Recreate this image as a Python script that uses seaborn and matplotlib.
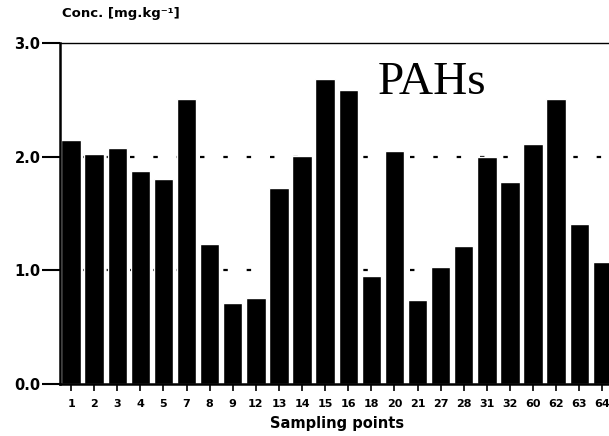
import matplotlib
matplotlib.use("Agg")
import matplotlib.pyplot as plt
import pandas as pd
import seaborn as sns

# Sampling points and PAH concentrations (mg/kg)
pontos = ["1", "2", "3", "4", "5", "7", "8", "9", "12", "13", "14", "15",
          "16", "18", "20", "21", "27", "28", "31", "32", "60", "62", "63", "64"]
conc = [2.15, 2.02, 2.08, 1.87, 1.80, 2.51, 1.23, 0.71, 0.76, 1.72, 2.01, 2.68,
        2.59, 0.95, 2.05, 0.74, 1.03, 1.21, 2.00, 1.78, 2.11, 2.51, 1.41, 1.07]
yticks = [0.0, 1.0, 2.0, 3.0]
ytick_labels = ["0.0", "1.0", "2.0", "3.0"]

dados = pd.DataFrame({"ponto": pontos, "conc": conc})

sns.set_style("ticks", {"text.color": "black", "axes.labelcolor": "black",
                        "xtick.color": "black", "ytick.color": "black",
                        "axes.edgecolor": "black"})
plt.rcParams["font.family"] = ["DejaVu Sans"]

fig = plt.figure(figsize=(6.09, 4.36), dpi=100)
# axes runs slightly off the right edge, like the cropped scan
ax = fig.add_axes([60 / 609, 52 / 436, 555 / 609, 341 / 436])

#grid lines behind the bars
for g in [1.0, 2.0]:
    ax.axhline(g, color="black", lw=1.6, ls=(0, (2, 8.5)), zorder=0)

sns.barplot(data=dados, x="ponto", y="conc", order=pontos, color="black",
            width=0.84, saturation=1, ax=ax, zorder=2)

ax.set_ylim(0, 3.0)
ax.set_xlim(-0.48, 23.55)
ax.set_yticks(yticks)
ax.set_yticklabels(ytick_labels, fontsize=10.5, fontweight="bold")
ax.tick_params(axis="y", left=True, direction="out", length=13, width=1.5,
               pad=1, color="black")
ax.tick_params(axis="x", bottom=True, direction="out", length=5, width=1.2,
               pad=6, labelsize=8)
for lbl in ax.get_xticklabels():
    lbl.set_fontweight("bold")

for s in ["left", "bottom"]:
    ax.spines[s].set_linewidth(1.8)
ax.spines["top"].set_linewidth(1.0)
ax.spines["right"].set_visible(False)

ax.set_xlabel("Sampling points", fontsize=10.5, fontweight="bold", labelpad=5)
ax.set_ylabel("")
fig.text(62 / 609, 1 - 14 / 436, "Conc. [mg.kg\u207b\u00b9]", fontsize=9.5,
         fontweight="bold", ha="left", va="center")

fig.text(432 / 609, 1 - 83 / 436, "PAHs", family="Liberation Serif",
         fontsize=34, ha="center", va="center")

fig.savefig("out.png", dpi=100)
